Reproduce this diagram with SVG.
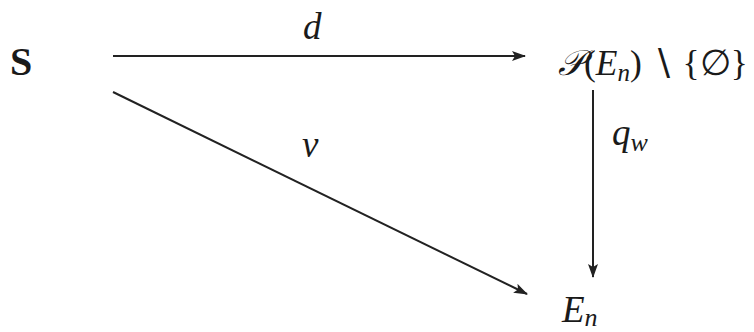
<svg xmlns="http://www.w3.org/2000/svg" width="754" height="332" viewBox="0 0 754 332">
<style>
.t{font-family:"Liberation Serif","DejaVu Serif",serif;fill:#1a1a1a}
.it{font-style:italic}
.edge{stroke:#222;stroke-width:2;fill:none}
</style>
<defs>
<marker id="ah" viewBox="0 0 14 10" refX="13" refY="5" markerWidth="14" markerHeight="10" markerUnits="userSpaceOnUse" orient="auto">
<path d="M0,0 L14,5 L0,10 L3,5 Z" fill="#222"/>
</marker>
</defs>
<rect width="754" height="332" fill="#ffffff"/>
<g id="connectors">
<g id="edge-d"><line class="edge" x1="113" y1="56" x2="525" y2="56" marker-end="url(#ah)"/><text class="t it" x="303" y="39" font-size="37">d</text></g>
<g id="edge-v"><line class="edge" x1="113" y1="92" x2="527" y2="294" marker-end="url(#ah)"/><text class="t it" x="302" y="157" font-size="37">v</text></g>
<g id="edge-qw"><line class="edge" x1="593" y1="90" x2="593" y2="277" marker-end="url(#ah)"/><text class="t it" x="612" y="145" font-size="37">q<tspan font-size="26" dy="6">w</tspan></text></g>
</g>
<g id="node-S"><text class="t" x="10" y="75" font-size="40" font-weight="bold">S</text></g>
<g id="node-P"><text class="t" x="558" y="75" font-size="35.5"><tspan class="it">𝒫</tspan>(<tspan class="it">E</tspan><tspan class="it" font-size="25" dy="6">n</tspan><tspan dy="-6">) ∖ {∅}</tspan></text></g>
<g id="node-En"><text class="t it" x="562" y="322" font-size="37">E<tspan font-size="26" dy="4">n</tspan></text></g>
</svg>
